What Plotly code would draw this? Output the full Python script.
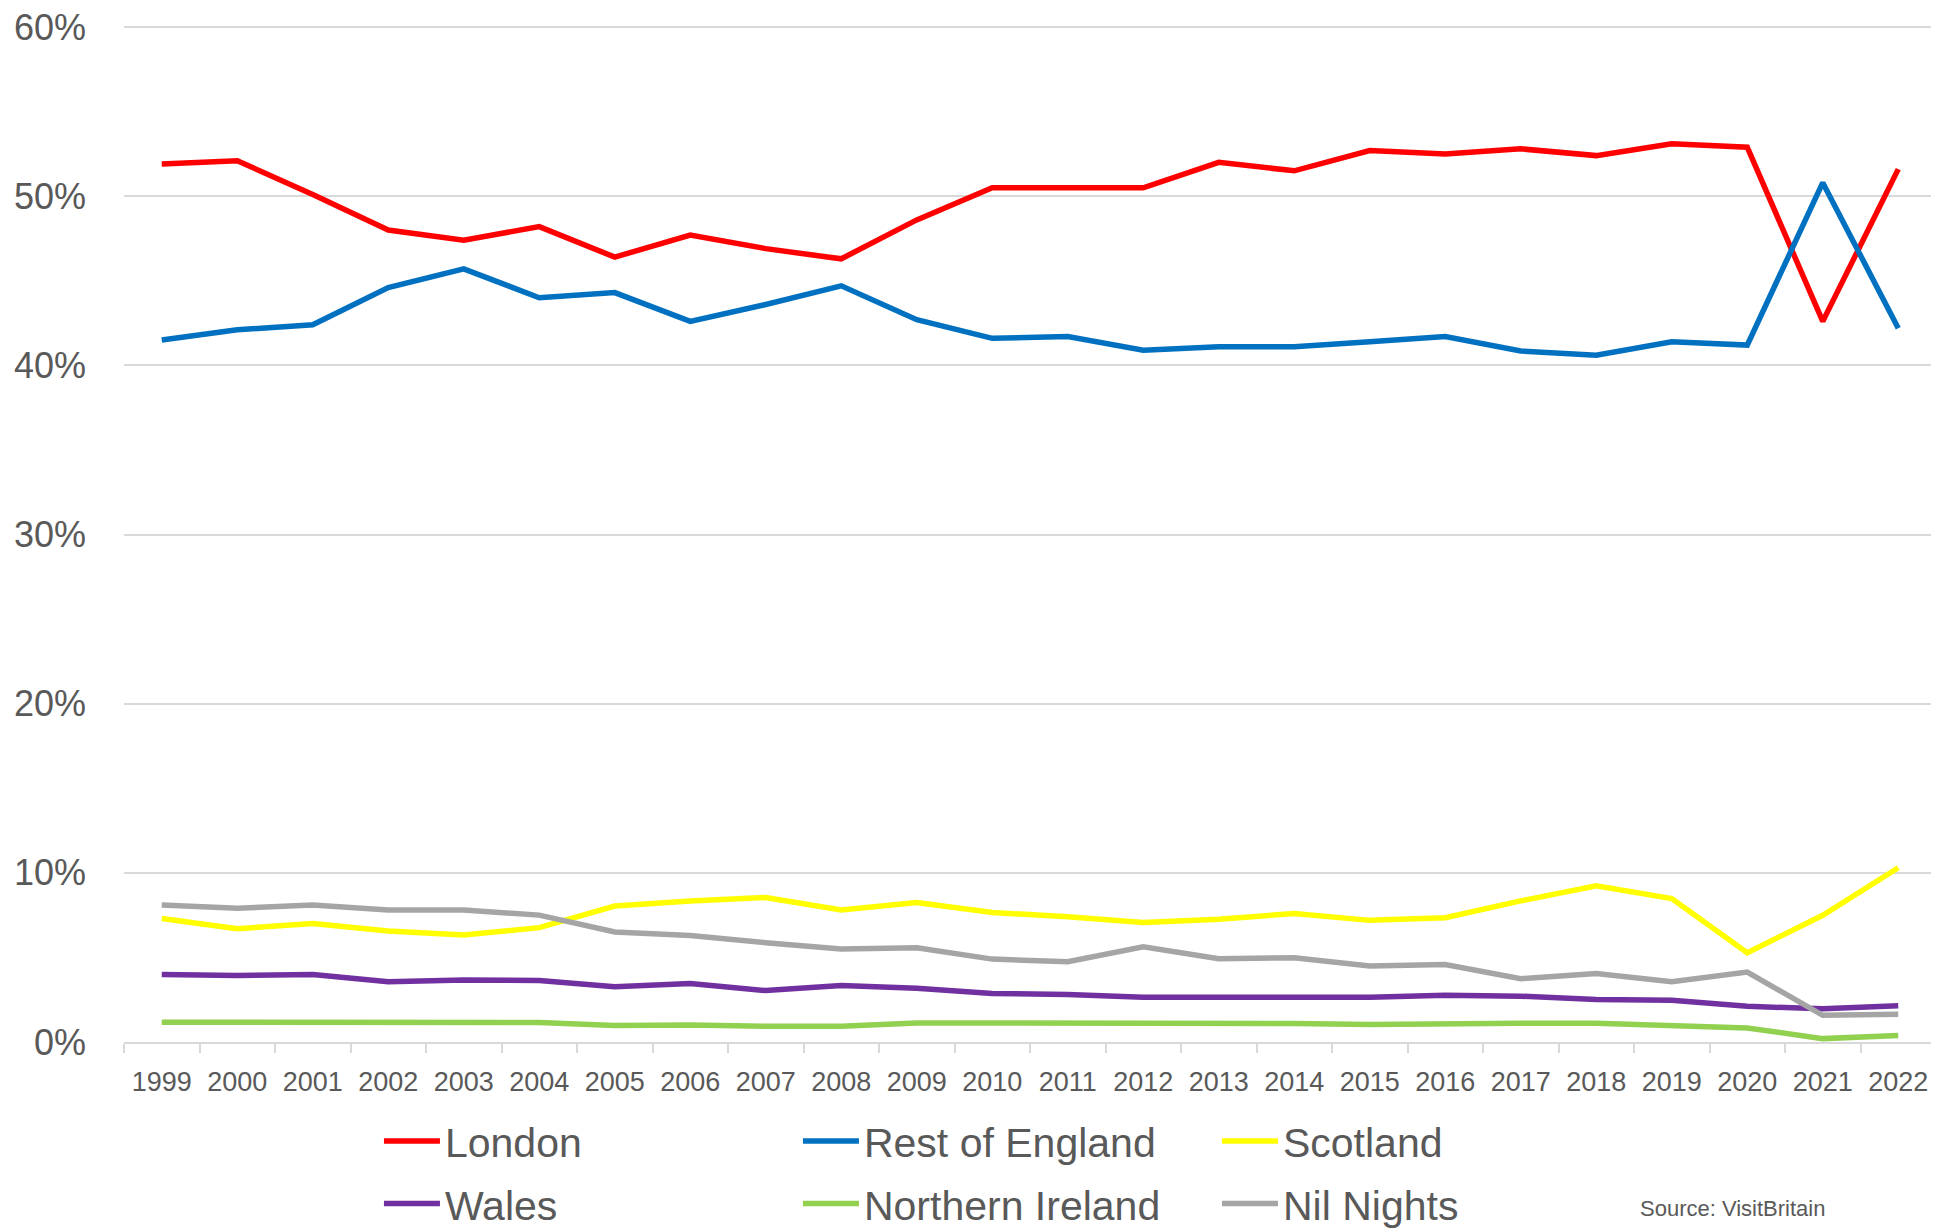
import plotly.graph_objects as go

years = [str(y) for y in range(1999, 2023)]

london = [51.9, 52.1, 50.1, 48.0, 47.4, 48.2, 46.4, 47.7, 46.9, 46.3, 48.6, 50.5,
          50.5, 50.5, 52.0, 51.5, 52.7, 52.5, 52.8, 52.4, 53.1, 52.9, 42.6, 51.6]
rest_of_england = [41.5, 42.1, 42.4, 44.6, 45.7, 44.0, 44.3, 42.6, 43.6, 44.7, 42.7, 41.6,
                   41.7, 40.9, 41.1, 41.1, 41.4, 41.7, 40.85, 40.6, 41.4, 41.2, 50.8, 42.2]
scotland = [7.3, 6.7, 7.0, 6.56, 6.32, 6.76, 8.04, 8.34, 8.54, 7.8, 8.24, 7.65,
            7.41, 7.06, 7.25, 7.6, 7.19, 7.35, 8.34, 9.23, 8.48, 5.28, 7.49, 10.3]
wales = [3.99, 3.93, 3.99, 3.56, 3.66, 3.64, 3.26, 3.46, 3.04, 3.34, 3.18, 2.87,
         2.81, 2.65, 2.65, 2.65, 2.65, 2.77, 2.71, 2.51, 2.47, 2.11, 1.96, 2.15]
northern_ireland = [1.17, 1.17, 1.11, 1.15, 1.11, 1.15, 0.97, 1.0, 0.93, 0.93, 1.13, 1.13,
                    1.09, 1.13, 1.09, 1.09, 1.03, 1.11, 1.11, 1.11, 0.97, 0.83, 0.2, 0.38]
nil_nights = [8.1, 7.9, 8.1, 7.8, 7.8, 7.5, 6.5, 6.3, 5.87, 5.5, 5.57, 4.9,
              4.74, 5.63, 4.92, 4.98, 4.49, 4.58, 3.74, 4.05, 3.56, 4.13, 1.58, 1.64]

series_names = ["London", "Rest of England", "Scotland", "Wales", "Northern Ireland", "Nil Nights"]
series_values = [london, rest_of_england, scotland, wales, northern_ireland, nil_nights]
series_colors = ["#FF0000", "#0070C0", "#FFFF00", "#7030A0", "#92D050", "#A5A5A5"]
series_legend = ["legend", "legend", "legend", "legend2", "legend2", "legend2"]

y_tick_vals = [0, 10, 20, 30, 40, 50, 60]
y_tick_text = ["0%", "10%", "20%", "30%", "40%", "50%", "60%"]

FONT = "Liberation Sans, Arial, sans-serif"
GREY_TEXT = "#595959"
GRID = "#D9D9D9"

fig = go.Figure()
for name, vals, col, lg in zip(series_names, series_values, series_colors, series_legend):
    fig.add_trace(go.Scatter(
        x=years, y=vals, name=name, mode="lines",
        line=dict(color=col, width=5.5),
        legend=lg,
    ))

legend_common = dict(
    orientation="h", xanchor="left", yanchor="middle",
    font=dict(family=FONT, size=41, color=GREY_TEXT),
    itemwidth=56, entrywidth=348, entrywidthmode="pixels",
    bgcolor="rgba(0,0,0,0)", borderwidth=0,
    tracegroupgap=0,
)

fig.update_layout(
    width=1931, height=1223,
    margin=dict(l=116, r=3, t=16, b=189, autoexpand=False),
    paper_bgcolor="white", plot_bgcolor="white",
    font=dict(family=FONT, color=GREY_TEXT),
    xaxis=dict(
        type="category", range=[-0.5, 23.5], automargin=False,
        showgrid=False, showline=True, linecolor=GRID, linewidth=2,
        ticks="outside", tickson="boundaries", ticklen=9, tickwidth=2, tickcolor=GRID,
        tickfont=dict(family=FONT, size=27, color=GREY_TEXT),
        tickangle=0, ticklabelstandoff=15,
        zeroline=False,
    ),
    yaxis=dict(
        range=[0, 60.18], tickvals=y_tick_vals, ticktext=y_tick_text, automargin=False,
        showgrid=True, gridcolor=GRID, gridwidth=2,
        zeroline=False, showline=False, ticks="",
        tickfont=dict(family=FONT, size=36, color=GREY_TEXT),
        ticklabelstandoff=37, ticklabeloverflow="allow",
    ),
    legend=dict(x=0.1407, y=-0.0977, **legend_common),
    legend2=dict(x=0.1407, y=-0.1591, **legend_common),
    showlegend=True,
    annotations=[dict(
        text="Source: VisitBritain", xref="paper", yref="paper",
        x=0.8355, y=-0.1631, xanchor="left", yanchor="middle", showarrow=False,
        font=dict(family=FONT, size=22, color=GREY_TEXT),
    )],
)

fig.write_html("out.html")
